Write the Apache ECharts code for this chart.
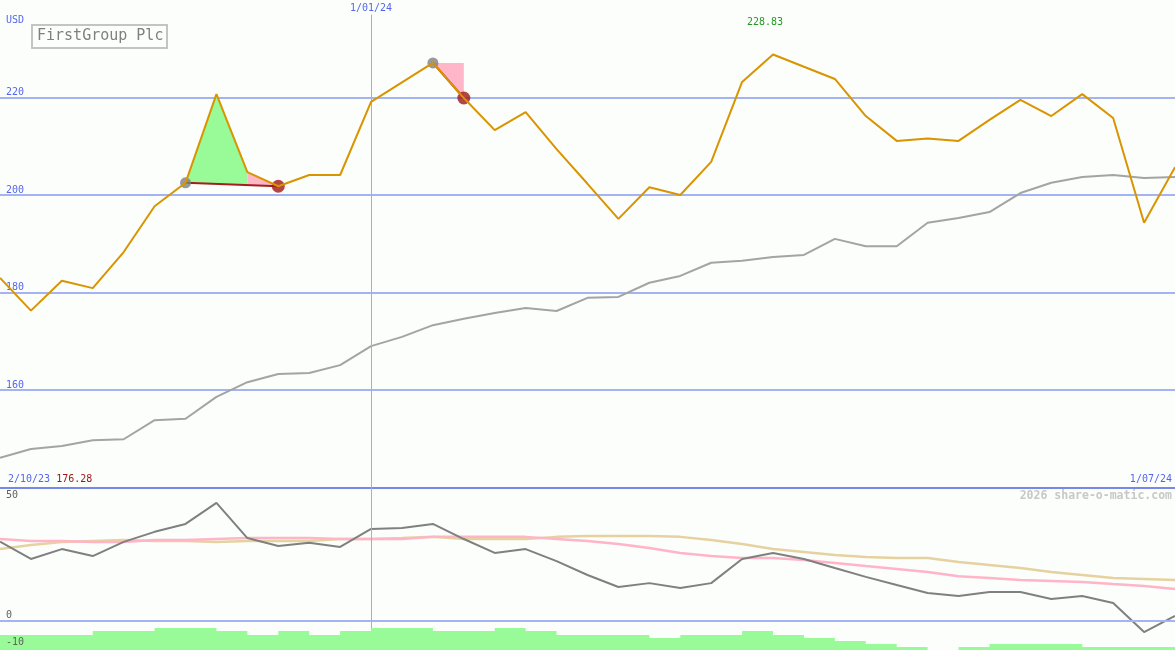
<!DOCTYPE html>
<html><head><meta charset="utf-8">
<script src="https://cdn.jsdelivr.net/npm/echarts@6/dist/echarts.min.js"></script>
<style>html,body{margin:0;padding:0;background:#FBFEFA;}#c{width:1175px;height:650px;}</style>
</head><body><div id="c"></div>
<script>
// ---- data ----
const dates = ['2/10/23','9/10/23','16/10/23','23/10/23','30/10/23','6/11/23','13/11/23','20/11/23','27/11/23','4/12/23','11/12/23','18/12/23',
  '1/01/24','8/01/24','15/01/24','22/01/24','29/01/24','5/02/24','12/02/24','19/02/24','26/02/24','4/03/24','11/03/24','18/03/24','25/03/24',
  '1/04/24','8/04/24','15/04/24','22/04/24','29/04/24','6/05/24','13/05/24','20/05/24','27/05/24','3/06/24','10/06/24','17/06/24','24/06/24','1/07/24'];
const price = [183.0,176.28,182.4,180.9,188.3,197.7,202.5,220.7,204.7,201.8,204.1,204.1,219.1,223.1,227.1,219.9,213.3,217.0,209.4,202.3,
  195.1,201.6,200.0,206.8,223.2,228.83,226.3,223.8,216.2,211.1,211.6,211.1,215.4,219.5,216.2,220.7,215.8,194.3,205.7];
const priceMA = [146.1,147.9,148.5,149.7,149.9,153.8,154.1,158.6,161.6,163.3,163.5,165.1,169.0,170.9,173.3,174.6,175.8,176.8,176.2,178.9,
  179.1,182.0,183.4,186.1,186.5,187.3,187.7,191.0,189.5,189.5,194.3,195.3,196.5,200.4,202.5,203.7,204.1,203.5,203.7];
const rsi = [33.0,25.8,29.9,27.0,32.9,37.1,40.4,49.2,34.5,31.2,32.5,30.8,38.3,38.7,40.4,34.1,28.3,29.9,24.9,19.1,
  14.1,15.7,13.7,15.7,25.8,28.3,25.8,22.0,18.3,14.9,11.6,10.3,12.0,12.0,9.1,10.3,7.4,-4.7,2.0];
const rsiAvgFast = [34.1,33.3,33.3,32.9,32.9,33.7,33.7,34.1,34.5,34.5,34.5,34.1,34.1,34.1,35.0,35.0,35.0,35.0,34.1,33.3,
  32.0,30.4,28.3,27.0,26.2,26.2,25.4,24.1,22.8,21.6,20.3,18.6,17.8,17.0,16.6,16.2,15.3,14.5,13.2];
const rsiAvgSlow = [29.9,31.6,32.9,33.3,33.7,33.3,33.3,32.9,33.3,33.3,33.3,34.1,34.1,34.5,35.0,34.1,34.1,34.1,35.0,35.4,
  35.4,35.4,35.0,33.7,32.0,29.9,28.7,27.4,26.6,26.2,26.2,24.5,23.3,22.0,20.3,19.1,17.8,17.4,17.0];
const volume = [15,15,15,19,19,22,22,19,15,19,15,19,22,22,19,19,22,19,15,15,15,12,15,15,19,15,12,9,6,3,0,3,6,6,6,3,3,3,3];
const buyIdx = [6, 14];
const sellIdx = [9, 15];
const markDateIdx = 12;
const priceTicks = {min: 140, max: 240, step: 20};
const lowerTicks = [-10, 0, 50];

// ---- styles ----
const MONO = 'DejaVu Sans Mono';
const BLUE = '#5566EE';
const GRID = '#A4B4F2';
const VLINE = '#9AACF8';

const tradeAt = (b, s, x) => price[b] + (price[s] - price[b]) * (x - b) / (s - b);
const fills = [
  {color: '#98FB98', pts: [[6, price[6]], [7, price[7]], [8, price[8]], [8, tradeAt(6, 9, 8)]]},
  {color: '#FFB6C8', pts: [[8, price[8]], [9, price[9]], [8, tradeAt(6, 9, 8)]]},
  {color: '#FFB6C8', pts: [[14, price[14]], [15, price[14]], [15, price[15]]]}
];
const minStr = Math.min(...price).toFixed(2);
const last = dates.length - 1;

const chart = echarts.init(document.getElementById('c'), null, {renderer: 'canvas'});
chart.setOption({
  animation: false,
  backgroundColor: '#FBFEFA',
  title: [
    {text: 'FirstGroup Plc', left: 32, top: 25, borderColor: '#C4C4C4', borderWidth: 2, padding: [3, 4, 3, 5],
      textStyle: {fontFamily: MONO, fontSize: 15, fontWeight: 'normal', color: '#808080', lineHeight: 17}},
    {text: '2026 share-o-matic.com', right: 3, top: 490, padding: 0,
      textStyle: {fontFamily: MONO, fontSize: 11.5, fontWeight: 'bold', color: '#C8C8C8'}}
  ],
  grid: [
    {left: 0, right: 0, top: 0, height: 487.5},
    {left: 0, right: 0, top: 487.5, bottom: 0}
  ],
  xAxis: [
    {gridIndex: 0, type: 'category', data: dates, boundaryGap: false, position: 'bottom',
      axisLine: {lineStyle: {color: '#7888E8', width: 2}}, axisTick: {show: false}, splitLine: {show: false},
      axisLabel: {inside: true, margin: 3, interval: (i) => i === 0 || i === last,
        alignMinLabel: 'left', alignMaxLabel: 'right', padding: [0, 3, 0, 8],
        formatter: (v, i) => i === 0 ? '{d|' + v + '}{m|' + minStr + '}' : '{d|' + v + '}',
        rich: {d: {color: BLUE, fontFamily: MONO, fontSize: 10},
               m: {color: '#A01818', fontFamily: MONO, fontSize: 10, padding: [0, 0, 0, 6]}}}},
    {gridIndex: 1, type: 'category', data: dates, boundaryGap: false, show: false}
  ],
  yAxis: [
    {gridIndex: 0, type: 'value', min: priceTicks.min, max: priceTicks.max, interval: priceTicks.step,
      name: 'USD', nameLocation: 'end', nameGap: -20,
      nameTextStyle: {align: 'left', verticalAlign: 'middle', padding: [0, 0, 0, 6], color: BLUE, fontFamily: MONO, fontSize: 10},
      axisLine: {show: false}, axisTick: {show: false},
      axisLabel: {inside: true, margin: 6, verticalAlign: 'bottom', color: BLUE, fontFamily: MONO, fontSize: 10,
        showMinLabel: false, showMaxLabel: false},
      splitLine: {lineStyle: {color: GRID, width: 2}, showMinLine: false, showMaxLine: false}},
    {gridIndex: 1, type: 'value', min: -12.2, max: 55.6, z: 10,
      axisLine: {show: false}, axisTick: {show: false}, splitLine: {show: false},
      axisLabel: {inside: true, margin: 6, verticalAlign: 'middle', customValues: lowerTicks,
        formatter: v => v < 0 ? '{b|' + v + '}' : '{a|' + v + '}',
        rich: {a: {color: '#606060', fontFamily: MONO, fontSize: 10, padding: [0, 0, 11, 0]},
               b: {color: '#606060', fontFamily: MONO, fontSize: 10, padding: [0, 0, 5, 0]}}}},
    {gridIndex: 1, type: 'value', min: 0, max: 162.5, show: false}
  ],
  series: [
    {type: 'line', xAxisIndex: 0, yAxisIndex: 0, data: priceMA, symbol: 'none', z: 2,
      lineStyle: {color: '#A4A4A4', width: 2},
      markLine: {silent: true, symbol: ['none', 'none'],
        data: [[{coord: [dates[markDateIdx], 237], label: {show: true, position: 'start', distance: 1, formatter: dates[markDateIdx],
          color: BLUE, fontFamily: MONO, fontSize: 10}}, {coord: [dates[markDateIdx], 140]}]],
        lineStyle: {color: VLINE, width: 1, type: 'solid'}}},
    {type: 'custom', xAxisIndex: 0, yAxisIndex: 0, z: 3,
      data: fills.map(f => f.pts[0]),
      renderItem: (params, api) => {
        const f = fills[params.dataIndex];
        return {type: 'polygon', shape: {points: f.pts.map(p => api.coord(p))}, style: {fill: f.color}};
      }},
    ...buyIdx.map((b, k) => ({type: 'line', xAxisIndex: 0, yAxisIndex: 0, z: 4, symbol: 'none',
      data: [[b, price[b]], [sellIdx[k], price[sellIdx[k]]]], lineStyle: {color: '#A31E1E', width: 2}})),
    {type: 'scatter', xAxisIndex: 0, yAxisIndex: 0, z: 5, symbolSize: 11,
      data: buyIdx.map(i => [i, price[i]]), itemStyle: {color: '#808080'}},
    {type: 'scatter', xAxisIndex: 0, yAxisIndex: 0, z: 5, symbolSize: 13,
      data: sellIdx.map(i => [i, price[i]]), itemStyle: {color: '#A01818'}},
    {type: 'line', xAxisIndex: 0, yAxisIndex: 0, data: price, symbol: 'none', z: 6,
      lineStyle: {color: '#D99400', width: 2},
      markPoint: {symbol: 'circle', symbolSize: 1, itemStyle: {color: 'rgba(0,0,0,0)'},
        data: [{type: 'max'}],
        label: {show: true, position: 'top', distance: 27, offset: [-8, 0], formatter: p => Number(p.value).toFixed(2),
          color: '#229922', fontFamily: MONO, fontSize: 10}}},
    // lower panel
    {type: 'line', xAxisIndex: 1, yAxisIndex: 1, data: rsiAvgSlow, symbol: 'none', z: 2,
      lineStyle: {color: '#E6D2A0', width: 2.5},
      markLine: {silent: true, symbol: ['none', 'none'], label: {show: false},
        data: [{yAxis: 0, lineStyle: {color: GRID, width: 2, type: 'solid'}},
               {xAxis: dates[markDateIdx], lineStyle: {color: VLINE, width: 1, type: 'solid'}}]}},
    {type: 'line', xAxisIndex: 1, yAxisIndex: 1, data: rsiAvgFast, symbol: 'none', z: 3,
      lineStyle: {color: '#FFB4C8', width: 2.5}},
    {type: 'line', xAxisIndex: 1, yAxisIndex: 1, data: rsi, symbol: 'none', z: 4,
      lineStyle: {color: '#808080', width: 2}},
    {type: 'line', xAxisIndex: 1, yAxisIndex: 2, data: volume, symbol: 'none', step: 'end', z: 5,
      lineStyle: {width: 0}, areaStyle: {color: '#98FB98', opacity: 1}}
  ]
});
</script></body></html>
